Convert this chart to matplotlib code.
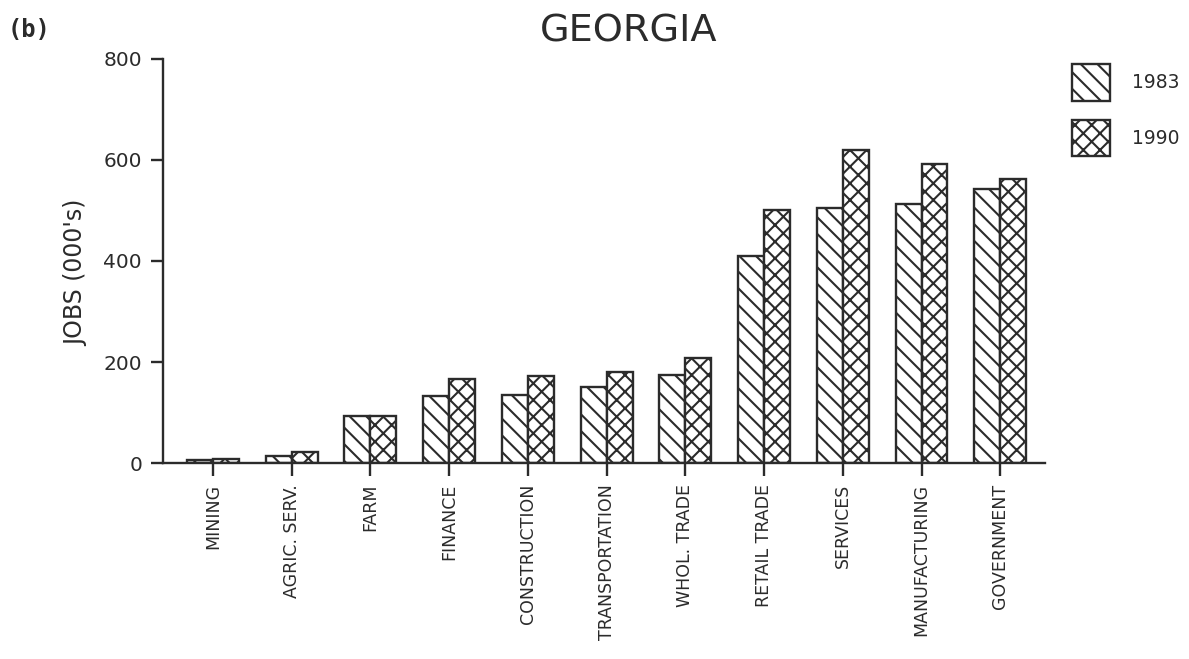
import numpy as np
import matplotlib
matplotlib.use('Agg')
import matplotlib.pyplot as plt
from matplotlib.patches import Patch

# data (thousands of jobs)
sectors = ['MINING', 'AGRIC. SERV.', 'FARM', 'FINANCE', 'CONSTRUCTION',
           'TRANSPORTATION', 'WHOL. TRADE', 'RETAIL TRADE', 'SERVICES',
           'MANUFACTURING', 'GOVERNMENT']
jobs_1983 = [5, 14, 93, 133, 135, 150, 175, 410, 505, 512, 542]
jobs_1990 = [7, 22, 93, 166, 172, 181, 207, 500, 620, 592, 562]
years = ['1983', '1990']
y_ticks = [0, 200, 400, 600, 800]

ink = '#2b2b2b'
plt.rcParams['hatch.linewidth'] = 1.5
plt.rcParams['hatch.color'] = ink

fig = plt.figure(figsize=(11.89, 6.59), dpi=100)
ax = fig.add_axes([0.137, 0.2974, 0.742, 0.6131])

x = np.arange(len(sectors))
w = 0.33
ax.bar(x - w/2, jobs_1983, w, facecolor='white', edgecolor=ink, linewidth=1.7, hatch='\\\\')
ax.bar(x + w/2, jobs_1990, w, facecolor='white', edgecolor=ink, linewidth=1.7, hatch='xx')

ax.set_xlim(-0.635, 10.57)
ax.set_ylim(0, 800)
ax.set_yticks(y_ticks)
ax.set_yticklabels([str(v) for v in y_ticks], fontsize=14.5, color=ink)
ax.set_xticks(x)
ax.set_xticklabels(sectors, rotation=90, fontsize=12.5, color=ink,
                   family=['Liberation Sans Narrow', 'DejaVu Sans Condensed', 'DejaVu Sans'])
ax.tick_params(axis='both', direction='out', length=9, width=1.7, color=ink, pad=6)

for s in ['top', 'right']:
    ax.spines[s].set_visible(False)
for s in ['left', 'bottom']:
    ax.spines[s].set_linewidth(1.7)
    ax.spines[s].set_color(ink)

ax.set_ylabel("JOBS (000's)", fontsize=17, color=ink)
ax.yaxis.set_label_coords(-0.085, 0.47)

fig.text(0.529, 0.952, 'GEORGIA', ha='center', va='center', fontsize=27.5, color=ink)
fig.text(0.006, 0.955, '(b)', ha='left', va='center', fontsize=17, fontweight='bold',
         color=ink, family='DejaVu Sans Mono')

handles = [Patch(facecolor='white', edgecolor=ink, linewidth=1.7, hatch='\\\\'),
           Patch(facecolor='white', edgecolor=ink, linewidth=1.7, hatch='xx')]
fig.legend(handles, years, loc='upper left', bbox_to_anchor=(0.8875, 0.928),
           frameon=False, fontsize=13.5, handlelength=2.0, handleheight=2.6,
           labelspacing=1.03, handletextpad=1.2, labelcolor=ink)

plt.savefig('out.png', dpi=100)
